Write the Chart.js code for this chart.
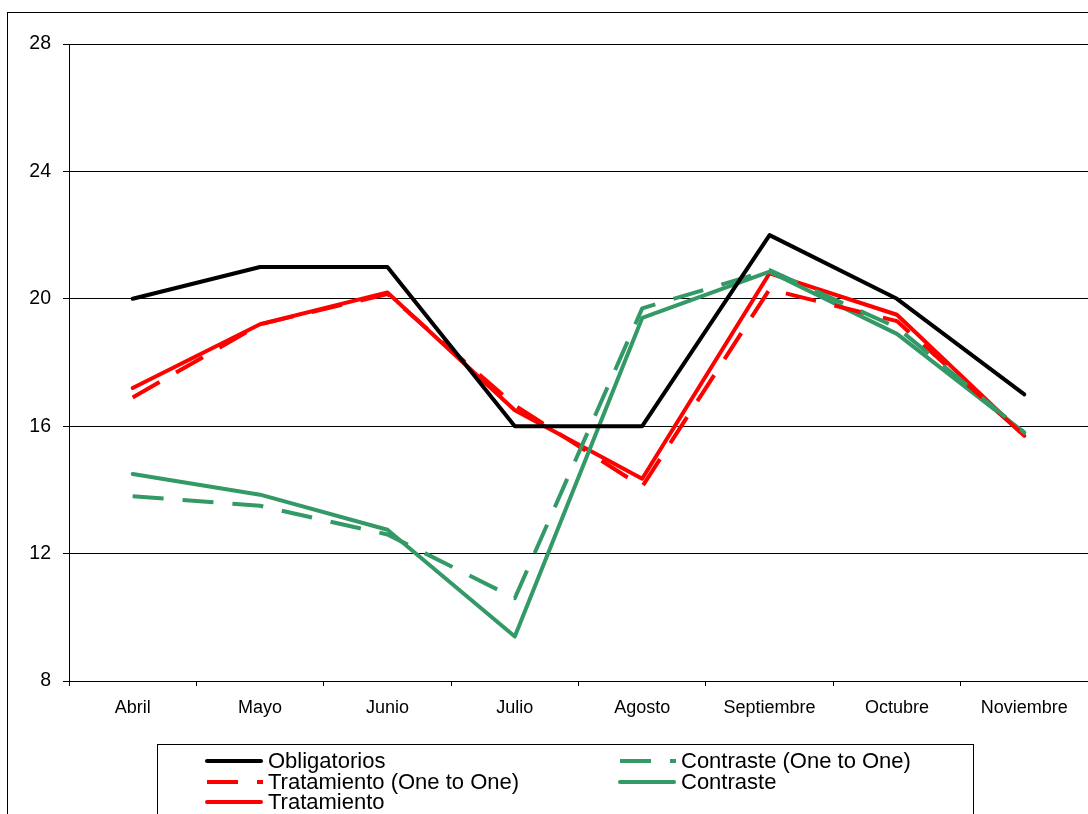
<!DOCTYPE html>
<html>
<head>
<meta charset="utf-8">
<script src="https://cdn.jsdelivr.net/npm/chart.js@4.4.1/dist/chart.umd.min.js"></script>
<style>
  html, body { margin: 0; padding: 0; background: #fff; }
  canvas { display: block; }
</style>
</head>
<body>
<canvas id="chart" width="1088" height="814"></canvas>
<script>
// Monthly values per group
const months = ['Abril', 'Mayo', 'Junio', 'Julio', 'Agosto', 'Septiembre', 'Octubre', 'Noviembre'];
const obligatorios       = [20, 21, 21, 16, 16, 22, 20, 17];
const contrasteOneToOne  = [13.8, 13.5, 12.6, 10.6, 19.7, 20.9, 19.1, 15.8];
const tratamientoOneToOne = [16.9, 19.2, 20.15, 16.65, 14.1, 20.3, 19.3, 15.7];
const contraste          = [14.5, 13.85, 12.75, 9.4, 19.4, 20.85, 18.9, 15.8];
const tratamiento        = [17.2, 19.2, 20.2, 16.5, 14.35, 20.8, 19.5, 15.7];
const yMin = 8, yMax = 28, yStep = 4;

const FONT = 'Arial, "Liberation Sans", sans-serif';
Chart.defaults.font.family = FONT;
Chart.defaults.color = '#000';

const RED = '#ff0000';
const GREEN = '#339966';
const DASH = [31, 19];

function series(label, data, color, dashed) {
  return {
    label, data,
    borderColor: color,
    backgroundColor: color,
    borderWidth: 4,
    borderDash: dashed ? DASH : [],
    borderCapStyle: dashed ? 'butt' : 'round',
    borderJoinStyle: 'round',
    pointRadius: 0,
    pointHoverRadius: 0,
    tension: 0,
    fill: false
  };
}

// Frame around the whole chart
const frame = {
  id: 'frame',
  beforeDraw(chart) {
    const ctx = chart.ctx;
    ctx.save();
    ctx.fillStyle = '#fff';
    ctx.fillRect(0, 0, chart.width, chart.height);
    ctx.strokeStyle = '#000';
    ctx.lineWidth = 1;
    ctx.strokeRect(7.5, 12.5, chart.width + 20, chart.height + 20);
    ctx.restore();
  }
};

// Boxed two-column legend below the plot
const boxedLegend = {
  id: 'boxedLegend',
  afterDraw(chart) {
    const ctx = chart.ctx;
    ctx.save();
    ctx.strokeStyle = '#000';
    ctx.lineWidth = 1;
    ctx.strokeRect(157.5, 744.5, 816, 120);
    const slots = [[205, 761], [618, 761], [205, 782], [618, 782], [205, 802]];
    ctx.font = '22px ' + FONT;
    ctx.textBaseline = 'middle';
    ctx.textAlign = 'left';
    chart.data.datasets.forEach((ds, i) => {
      const [x, y] = slots[i];
      const dashed = ds.borderDash && ds.borderDash.length;
      ctx.beginPath();
      ctx.setLineDash(dashed ? ds.borderDash : []);
      ctx.lineCap = dashed ? 'butt' : 'round';
      ctx.strokeStyle = ds.borderColor;
      ctx.lineWidth = 4;
      if (dashed) { ctx.moveTo(x + 2, y); ctx.lineTo(x + 58, y); }
      else { ctx.moveTo(x + 2, y); ctx.lineTo(x + 56, y); }
      ctx.stroke();
      ctx.setLineDash([]);
      ctx.fillStyle = '#000';
      ctx.fillText(ds.label, x + 63, y + 1);
    });
    ctx.restore();
  }
};

new Chart(document.getElementById('chart'), {
  type: 'line',
  data: {
    labels: months,
    datasets: [
      series('Obligatorios', obligatorios, '#000', false),
      series('Contraste (One to One)', contrasteOneToOne, GREEN, true),
      series('Tratamiento (One to One)', tratamientoOneToOne, RED, true),
      series('Contraste', contraste, GREEN, false),
      series('Tratamiento', tratamiento, RED, false)
    ]
  },
  options: {
    responsive: false,
    animation: false,
    events: [],
    layout: { padding: { left: 0, top: 44, right: 0, bottom: 0 } },
    plugins: {
      legend: { display: false },
      title: { display: false },
      tooltip: { enabled: false }
    },
    scales: {
      x: {
        offset: true,
        grid: {
          offset: true,
          drawOnChartArea: false,
          drawTicks: true,
          tickLength: 5,
          tickColor: '#000',
          color: '#000'
        },
        border: { color: '#000', width: 1 },
        ticks: { font: { size: 18 }, color: '#000', padding: 11, maxRotation: 0, autoSkip: false },
        afterFit(scale) { scale.height = 814 - 44 - 637; }
      },
      y: {
        min: yMin,
        max: yMax,
        ticks: { stepSize: yStep, font: { size: 19.5 }, color: '#000', padding: 12 },
        grid: { color: '#000', lineWidth: 1, tickLength: 6, tickColor: '#000' },
        border: { color: '#000', width: 1 },
        afterFit(scale) { scale.width = 69; }
      }
    }
  },
  plugins: [frame, boxedLegend]
});
</script>
</body>
</html>
